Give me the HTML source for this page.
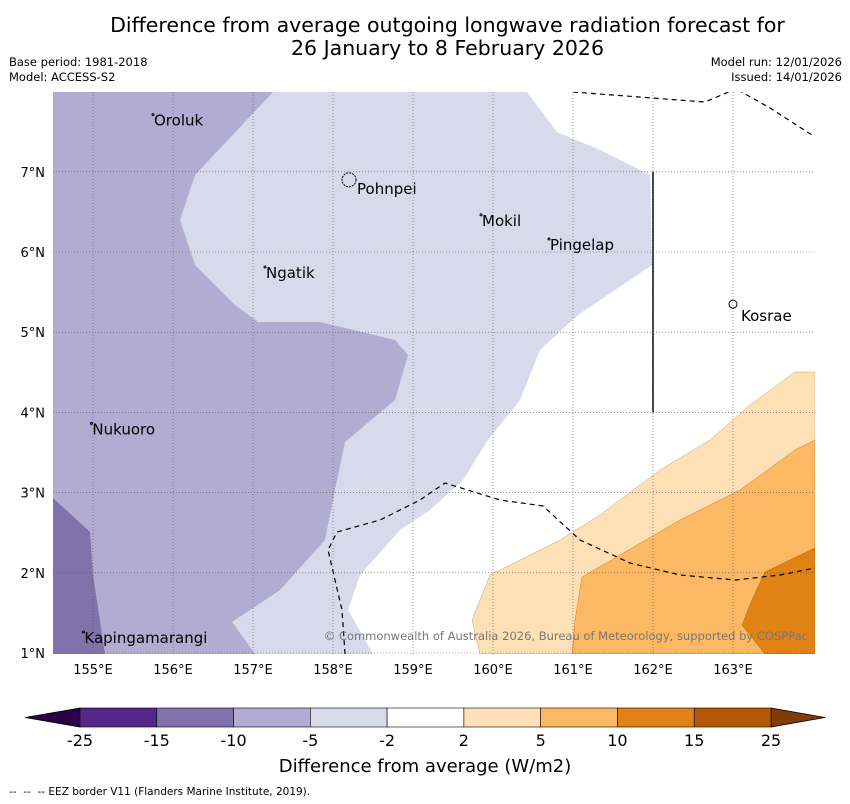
<!DOCTYPE html>
<html><head><meta charset="utf-8">
<style>
body{margin:0;background:#fff;font-family:"DejaVu Sans","Liberation Sans",sans-serif;}
#wrap{position:relative;width:850px;height:804px;overflow:hidden;}
.t{position:absolute;color:#000;}
svg text{font-family:"DejaVu Sans","Liberation Sans",sans-serif;}
</style></head>
<body><div id="wrap">
<div class="t" style="left:0;width:895px;top:14px;text-align:center;font-size:20.5px;line-height:23px;">Difference from average outgoing longwave radiation forecast for<br>26 January to 8 February 2026</div>
<div class="t" style="left:9px;top:55px;font-size:11.5px;line-height:15px;">Base period: 1981-2018<br>Model: ACCESS-S2</div>
<div class="t" style="right:8px;top:55px;font-size:11.5px;line-height:15px;text-align:right;">Model run: 12/01/2026<br>Issued: 14/01/2026</div>
<svg id="map" width="850" height="804" style="position:absolute;left:0;top:0"></svg>
<div class="t" style="left:9px;top:786px;font-size:10.5px;">-- &nbsp;-- &nbsp;-- EEZ border V11 (Flanders Marine Institute, 2019).</div>
</div>
<script>
const NS="http://www.w3.org/2000/svg";
const svg=document.getElementById('map');
const lonTicks=[155,156,157,158,159,160,161,162,163];
const latTicks=[1,2,3,4,5,6,7];
const cbLevels=[-25,-15,-10,-5,-2,2,5,10,15,25];
const cbColors=["#542788","#8073ac","#b2abd2","#d8daeb","#ffffff","#fee0b6","#fdb863","#e08214","#b35806"];
const places=["Oroluk","Pohnpei","Mokil","Pingelap","Ngatik","Kosrae","Nukuoro","Kapingamarangi"];
const placeLon=[155.75,158.25,159.85,160.7,157.15,163.05,154.98,154.88];
const placeLat=[7.7,6.85,6.45,6.15,5.8,5.3,3.85,1.25];
function X(lon){return 93+(lon-155)*80;}
function Y(lat){return 653-(lat-1)*80.2;}
function P(px,py){return [155+(px-93)/80,1+(653-py)/80.2];}
const lightPurple=[[53,92],[815,92],[815,654],[53,654]].map(p=>P(...p));
const whiteZone=[[527,92],[815,92],[815,654],[373,654],[348,610],[360,575],[400,530],[430,510],[463,480],[488,440],[520,400],[540,350],[578,315],[615,290],[652,265],[650,175],[600,150],[557,132]].map(p=>P(...p));
const midPurple=[[53,92],[273,92],[195,175],[180,220],[195,265],[235,305],[258,322],[320,322],[395,340],[408,355],[395,400],[345,442],[335,490],[325,540],[280,590],[232,622],[255,654],[53,654]].map(p=>P(...p));
const darkPurple=[[53,498],[90,532],[93,575],[105,654],[53,654]].map(p=>P(...p));
const lightOrange=[[815,372],[795,372],[750,405],[710,440],[660,470],[600,515],[560,540],[490,575],[472,620],[480,654],[815,654]].map(p=>P(...p));
const orange=[[815,440],[795,450],[740,490],[680,520],[620,555],[582,577],[575,620],[572,654],[815,654]].map(p=>P(...p));
const darkOrange=[[815,548],[765,572],[752,600],[742,625],[765,654],[815,654]].map(p=>P(...p));
const eez1=[[573,92],[705,102],[738,88]].map(p=>P(...p));
const eez2=[[738,90],[770,108],[812,135]].map(p=>P(...p));
const eez3=[[345,654],[342,610],[335,580],[328,550],[337,532],[380,520],[420,500],[445,483],[500,500],[543,506],[580,540],[630,563],[680,575],[735,580],[780,575],[815,568]].map(p=>P(...p));
function el(t,a){const e=document.createElementNS(NS,t);for(const k in a)e.setAttribute(k,a[k]);svg.appendChild(e);return e;}
const clip=document.createElementNS(NS,'clipPath');clip.setAttribute('id','mc');
const cr=document.createElementNS(NS,'rect');cr.setAttribute('x',53);cr.setAttribute('y',92);cr.setAttribute('width',762);cr.setAttribute('height',562);clip.appendChild(cr);svg.appendChild(clip);
const g=el('g',{'clip-path':'url(#mc)'});
function poly(pts,fill,name,stroke){const e=document.createElementNS(NS,'polygon');e.setAttribute('points',pts.map(p=>X(p[0])+','+Y(p[1])).join(' '));e.setAttribute('fill',fill);if(stroke){e.setAttribute('stroke',stroke);e.setAttribute('stroke-width','0.5');}


g.appendChild(e);}
poly(lightPurple,cbColors[3],'contour-minus5-minus2');
poly(whiteZone,'#ffffff','contour-near-zero');
poly(midPurple,cbColors[2],'contour-minus10-minus5');
poly(darkPurple,cbColors[1],'contour-minus15-minus10');
poly(lightOrange,cbColors[5],'contour-2-5','#d9a060');
poly(orange,cbColors[6],'contour-5-10','#c98030');
poly(darkOrange,cbColors[7],'contour-10-15','#b06010');
function line(pts,name,dash,w){const e=document.createElementNS(NS,'polyline');e.setAttribute('points',pts.map(p=>X(p[0])+','+Y(p[1])).join(' '));e.setAttribute('fill','none');e.setAttribute('stroke','#000');e.setAttribute('stroke-width',w||1.2);if(dash)e.setAttribute('stroke-dasharray',dash);


g.appendChild(e);}
line(eez1,'eez-border','5,4');line(eez2,'eez-border','5,4');line(eez3,'eez-border','5,4');
line([[162,7],[162,4]],'eez-solid-line',null,1.5);
lonTicks.forEach(l=>{const e=document.createElementNS(NS,'line');e.setAttribute('x1',X(l));e.setAttribute('x2',X(l));e.setAttribute('y1',92);e.setAttribute('y2',654);e.setAttribute('stroke','#555');e.setAttribute('stroke-width','0.6');e.setAttribute('stroke-dasharray','1,2');


g.appendChild(e);
const t=el('text',{x:X(l),y:674,'font-size':13,'text-anchor':'middle'});t.textContent=l+'°E';

});
latTicks.forEach(l=>{const e=document.createElementNS(NS,'line');e.setAttribute('x1',53);e.setAttribute('x2',815);e.setAttribute('y1',Y(l));e.setAttribute('y2',Y(l));e.setAttribute('stroke','#555');e.setAttribute('stroke-width','0.6');e.setAttribute('stroke-dasharray','1,2');


g.appendChild(e);
const t=el('text',{x:45,y:Y(l)+5,'font-size':13,'text-anchor':'end'});t.textContent=l+'°N';

});
places.forEach((n,i)=>{const x=X(placeLon[i]),y=Y(placeLat[i]);
const big=n==='Pohnpei'?7:(n==='Kosrae'?4:1);
const d=el('circle',{cx:big>1?x-4:x,cy:big>1?y-4:y-1,r:big,fill:'none',stroke:'#000','stroke-width':1,'stroke-dasharray':n==='Pohnpei'?'2,1':''});


const t=el('text',{x:x+(big>1?4:1),y:y+(n==='Pohnpei'?10:(n==='Kosrae'?13:10)),'font-size':15});t.textContent=n;

});
const cp=el('text',{x:808,y:640,'font-size':11.5,'text-anchor':'end',fill:'#777'});cp.textContent='© Commonwealth of Australia 2026, Bureau of Meteorology, supported by COSPPac';


const cbX0=80,cbW=691,cbY=708,cbH=19;
function cx(i){return cbX0+i*cbW/(cbLevels.length-1);}
const lt=el('polygon',{points:`${cbX0},${cbY} 25,${cbY+cbH/2} ${cbX0},${cbY+cbH}`,fill:'#2d004b',stroke:'#000','stroke-width':0.8});


const rt=el('polygon',{points:`${cbX0+cbW},${cbY} 825,${cbY+cbH/2} ${cbX0+cbW},${cbY+cbH}`,fill:'#7f3b08',stroke:'#000','stroke-width':0.8});


cbColors.forEach((c,i)=>{const r=el('rect',{x:cx(i),y:cbY,width:cx(i+1)-cx(i),height:cbH,fill:c,stroke:'#000','stroke-width':0.6});

});
cbLevels.forEach((v,i)=>{const t=el('text',{x:cx(i),y:746,'font-size':16,'text-anchor':'middle'});t.textContent=v;

});
const ct=el('text',{x:425,y:772,'font-size':18,'text-anchor':'middle'});ct.textContent='Difference from average (W/m2)';


</script>
</body></html>
